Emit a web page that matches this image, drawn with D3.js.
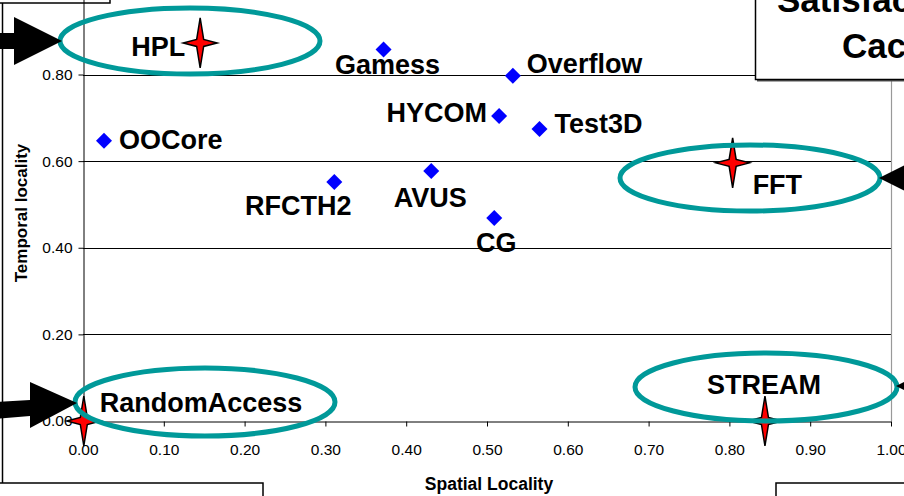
<!DOCTYPE html>
<html>
<head>
<meta charset="utf-8">
<script src="https://cdn.jsdelivr.net/npm/d3@7"></script>
<style>
    body { margin: 0; background: white; }
    svg { display: block; font-family: "Liberation Sans", Arial, sans-serif; }
    .tick text { font-size: 15.5px; fill: #000; }
    .label { font-size: 27px; font-weight: bold; fill: #000; }
</style>
</head>
<body>
<div id="chart"></div>
<script>
    // benchmarks
    var names = ["HPL", "Gamess", "Overflow", "HYCOM", "Test3D", "OOCore", "AVUS", "RFCTH2", "CG", "FFT", "STREAM", "RandomAccess"];
    var spatial = [0.145, 0.372, 0.532, 0.515, 0.565, 0.026, 0.431, 0.311, 0.509, 0.804, 0.844, 0.001];
    var temporal = [0.873, 0.858, 0.797, 0.704, 0.674, 0.647, 0.577, 0.552, 0.469, 0.596, 0.0, 0.0];
    var circled = ["HPL", "FFT", "STREAM", "RandomAccess"];
    var xTicks = [0, 0.1, 0.2, 0.3, 0.4, 0.5, 0.6, 0.7, 0.8, 0.9, 1.0];
    var yTicks = [0, 0.2, 0.4, 0.6, 0.8];
    var xTitle = "Spatial Locality";
    var yTitle = "Temporal locality";
    var boxLines = ["Satisfactory", "Cache"];

    var details = names.map(function (n, i) {
        return { name: n, sx: spatial[i], ty: temporal[i] };
    });

    var svg = d3.select("#chart").append("svg")
        .attr("width", 904)
        .attr("height", 496);

    var x = d3.scaleLinear().domain([0, 1]).range([83, 891]);
    var y = d3.scaleLinear().domain([0, 1]).range([421, -12.1]);

    // where each label sits relative to its point
    var place = {
        "HPL": { a: "end", dx: -15, dy: 13 },
        "Gamess": { a: "middle", dx: 4, dy: 25 },
        "Overflow": { a: "start", dx: 14, dy: -3 },
        "HYCOM": { a: "end", dx: -12, dy: 6 },
        "Test3D": { a: "start", dx: 15, dy: 4 },
        "OOCore": { a: "start", dx: 15, dy: 8 },
        "AVUS": { a: "middle", dx: -1, dy: 36 },
        "RFCTH2": { a: "middle", dx: -36, dy: 33 },
        "CG": { a: "middle", dx: 2, dy: 34 },
        "FFT": { a: "start", dx: 20, dy: 31 },
        "STREAM": { a: "middle", dx: -1, dy: -27 },
        "RandomAccess": { a: "start", dx: 16, dy: -9 }
    };

    // frame bits of the slide
    svg.append("line").attr("x1", 2.5).attr("x2", 2.5).attr("y1", 0).attr("y2", 483)
        .attr("stroke", "#000").attr("stroke-width", 1.5);
    svg.append("rect").attr("x", -5).attr("y", -10).attr("width", 115).attr("height", 13)
        .attr("fill", "white").attr("stroke", "#000").attr("stroke-width", 1.5);
    svg.append("rect").attr("x", -5).attr("y", 483).attr("width", 268).attr("height", 40)
        .attr("fill", "white").attr("stroke", "#000").attr("stroke-width", 1.5);
    svg.append("rect").attr("x", 776).attr("y", 483).attr("width", 160).attr("height", 40)
        .attr("fill", "white").attr("stroke", "#000").attr("stroke-width", 1.5);

    // grid
    svg.append("g").selectAll("line").data(yTicks.filter(function (d) { return d > 0; }))
        .enter().append("line")
        .attr("x1", x(0)).attr("x2", x(1))
        .attr("y1", function (d) { return Math.round(y(d)) + 0.5; })
        .attr("y2", function (d) { return Math.round(y(d)) + 0.5; })
        .attr("stroke", "#000").attr("stroke-width", 1);

    svg.append("line").attr("x1", x(1) + 0.5).attr("x2", x(1) + 0.5)
        .attr("y1", y(1)).attr("y2", y(0))
        .attr("stroke", "#999").attr("stroke-width", 1.2);

    var fmt = d3.format(".2f");
    var xAxis = svg.append("g").attr("transform", "translate(0," + (y(0) + 0.5) + ")")
        .call(d3.axisBottom(x).tickValues(xTicks).tickFormat(fmt).tickSize(5).tickSizeOuter(0).tickPadding(17));
    var yAxis = svg.append("g").attr("transform", "translate(" + (x(0) + 0.5) + ",0)")
        .call(d3.axisLeft(y).tickValues(yTicks).tickFormat(fmt).tickSize(5).tickSizeOuter(0).tickPadding(6));
    [xAxis, yAxis].forEach(function (g) {
        g.selectAll("path, line").attr("stroke", "#000");
        g.selectAll("text").attr("font-family", null).attr("font-size", null);
    });

    svg.append("text").text(xTitle)
        .attr("x", 489).attr("y", 490)
        .attr("text-anchor", "middle")
        .attr("font-weight", "bold").attr("font-size", 17.5);
    svg.append("text").text(yTitle)
        .attr("transform", "translate(27,213) rotate(-90)")
        .attr("text-anchor", "middle")
        .attr("font-weight", "bold").attr("font-size", 17);

    // points
    var diamond = "M0,-8L8,0L0,8L-8,0Z";
    var star = "M0,-25L3.5,-3.5L17,0L3.5,3.5L0,25L-3.5,3.5L-17,0L-3.5,-3.5Z";

    svg.append("g").selectAll("path").data(details)
        .enter().append("path")
        .attr("d", diamond)
        .attr("transform", function (d) { return "translate(" + x(d.sx) + "," + y(d.ty) + ")"; })
        .attr("fill", "#0000FF");

    svg.append("g").selectAll("path").data(details.filter(function (d) { return circled.indexOf(d.name) >= 0; }))
        .enter().append("path")
        .attr("d", star)
        .attr("transform", function (d) { return "translate(" + x(d.sx) + "," + y(d.ty) + ")"; })
        .attr("fill", "#FF0000")
        .attr("stroke", "#000").attr("stroke-width", 1.5).attr("stroke-linejoin", "miter");

    // callout ellipses around the circled ones
    var ring = {
        "HPL": [190, 41, 130, 33],
        "FFT": [750, 178, 130, 33],
        "STREAM": [766, 387, 131, 34],
        "RandomAccess": [205, 402, 130, 34]
    };
    svg.append("g").selectAll("ellipse").data(circled)
        .enter().append("ellipse")
        .attr("cx", function (d) { return ring[d][0]; })
        .attr("cy", function (d) { return ring[d][1]; })
        .attr("rx", function (d) { return ring[d][2]; })
        .attr("ry", function (d) { return ring[d][3]; })
        .attr("fill", "none")
        .attr("stroke", "#009999").attr("stroke-width", 5);

    svg.append("g").selectAll("text").data(details)
        .enter().append("text").classed("label", true)
        .attr("x", function (d) { return x(d.sx) + place[d.name].dx; })
        .attr("y", function (d) { return y(d.ty) + place[d.name].dy; })
        .attr("text-anchor", function (d) { return place[d.name].a; })
        .text(function (d) { return d.name; });

    // arrows pointing at the callouts
    var arrows = svg.append("g").attr("fill", "#000");
    arrows.append("path").attr("d", "M-5,33L14,33L14,17L62,41L14,65L14,49L-5,49Z");
    arrows.append("path").attr("d", "M-5,402L30,400L30,382L77,403L30,428L30,416L-5,419Z");
    arrows.append("path").attr("d", "M879,178L925,155L925,201Z");
    arrows.append("path").attr("d", "M896,386L942,363L942,409Z");

    // title box top right
    svg.append("rect").attr("x", 757).attr("y", -10).attr("width", 200).attr("height", 91.5)
        .attr("fill", "#555");
    svg.append("rect").attr("x", 755.5).attr("y", -10).attr("width", 200).attr("height", 89.5)
        .attr("fill", "white").attr("stroke", "#000").attr("stroke-width", 1.5);
    svg.append("g").selectAll("text").data(boxLines)
        .enter().append("text")
        .attr("x", function (d, i) { return i === 0 ? 777 : 842; })
        .attr("y", function (d, i) { return 12 + i * 46; })
        .attr("font-weight", "bold").attr("font-size", 35)
        .text(function (d) { return d; });
</script>
</body>
</html>
